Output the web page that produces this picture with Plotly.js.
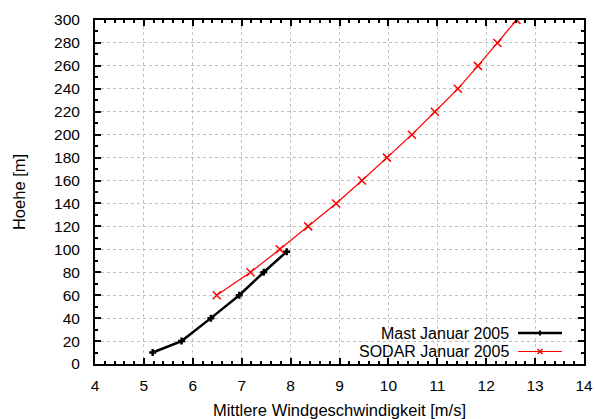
<!DOCTYPE html>
<html><head><meta charset="utf-8">
<script src="https://cdn.plot.ly/plotly-3.0.1.min.js"></script>
<style>html,body{margin:0;padding:0;background:#fff}#c{width:595px;height:419px}</style>
</head><body><div id="c"></div>
<script>
const mastSpeed = [5.18, 5.77, 6.37, 6.95, 7.45, 7.92];
const mastHeight = [10, 20, 40, 60, 80, 98];
const sodarSpeed = [6.49, 7.18, 7.78, 8.36, 8.93, 9.46, 9.97, 10.48, 10.95, 11.42, 11.83, 12.23, 12.62];
const sodarHeight = [60, 80, 100, 120, 140, 160, 180, 200, 220, 240, 260, 280, 300];
const mastName = 'Mast Januar 2005';
const sodarName = 'SODAR Januar 2005';
const xTitle = 'Mittlere Windgeschwindigkeit [m/s]';
const yTitle = 'Hoehe [m]';

const tickFont = {family: 'Liberation Sans, Arial, sans-serif', size: 15.5, color: '#000'};
const font = {family: 'Liberation Sans, Arial, sans-serif', size: 16.5, color: '#000'};
const legFont = {family: 'Liberation Sans, Arial, sans-serif', size: 16, color: '#000'};

const traces = [
  {x: mastSpeed, y: mastHeight, name: mastName, mode: 'lines+markers', type: 'scatter',
   line: {color: '#000', width: 2.5},
   marker: {symbol: 'cross-thin', size: 5, line: {color: '#000', width: 2.5}}},
  {x: sodarSpeed, y: sodarHeight, name: sodarName, mode: 'lines+markers', type: 'scatter',
   line: {color: '#ff0000', width: 1.2},
   marker: {symbol: 'x-thin', size: 8, line: {color: '#ff0000', width: 1.5}}}
];

const axisCommon = {
  showline: true, linecolor: '#000', linewidth: 2, mirror: 'allticks',
  ticks: 'inside', ticklen: 6, tickwidth: 2, tickcolor: '#000',
  showgrid: true, gridcolor: '#c0c0c0', griddash: 'dot', gridwidth: 1,
  zeroline: false, tickfont: tickFont
};

const yMast = 333, ySodar = 351.5;

const layout = {
  width: 595, height: 419,
  margin: {l: 95, r: 11, t: 20, b: 55},
  paper_bgcolor: '#fff', plot_bgcolor: '#fff',
  showlegend: false,
  font: font,
  xaxis: Object.assign({}, axisCommon, {
    range: [4, 14], dtick: 1, tick0: 4, ticklabelstandoff: 6,
    minor: {ticks: 'inside', ticklen: 3, tickwidth: 2, tickcolor: '#000', dtick: 0.2, showgrid: false},
    title: {text: xTitle, font: font, standoff: 14}
  }),
  yaxis: Object.assign({}, axisCommon, {
    range: [0, 300], dtick: 20, tick0: 0, ticklabelstandoff: 10,
    minor: {ticks: 'inside', ticklen: 3, tickwidth: 2, tickcolor: '#000', dtick: 10, showgrid: false},
    title: {text: yTitle, font: font, standoff: 24}
  }),
  annotations: [
    {xref: 'paper', yref: 'paper', x: (510 - 95) / 489, y: (364 - yMast) / 344, text: mastName,
     showarrow: false, xanchor: 'right', yanchor: 'middle', font: legFont, borderpad: 0},
    {xref: 'paper', yref: 'paper', x: (510 - 95) / 489, y: (364 - ySodar) / 344, text: sodarName,
     showarrow: false, xanchor: 'right', yanchor: 'middle', font: legFont, borderpad: 0}
  ],
  shapes: [
    {type: 'line', xref: 'paper', yref: 'paper', x0: (518 - 95) / 489, x1: (562 - 95) / 489,
     y0: (364 - yMast) / 344, y1: (364 - yMast) / 344, line: {color: '#000', width: 2.5}},
    {type: 'line', xref: 'paper', yref: 'paper', x0: (540 - 95) / 489, x1: (540 - 95) / 489,
     y0: (364 - yMast - 2.5) / 344, y1: (364 - yMast + 2.5) / 344, line: {color: '#000', width: 2}},
    {type: 'line', xref: 'paper', yref: 'paper', x0: (518 - 95) / 489, x1: (562 - 95) / 489,
     y0: (364 - ySodar) / 344, y1: (364 - ySodar) / 344, line: {color: '#ff0000', width: 1.2}},
    {type: 'line', xref: 'paper', yref: 'paper', x0: (537.5 - 95) / 489, x1: (542.5 - 95) / 489,
     y0: (364 - ySodar - 2.5) / 344, y1: (364 - ySodar + 2.5) / 344, line: {color: '#ff0000', width: 1.5}},
    {type: 'line', xref: 'paper', yref: 'paper', x0: (537.5 - 95) / 489, x1: (542.5 - 95) / 489,
     y0: (364 - ySodar + 2.5) / 344, y1: (364 - ySodar - 2.5) / 344, line: {color: '#ff0000', width: 1.5}}
  ]
};

Plotly.newPlot('c', traces, layout, {staticPlot: true, displayModeBar: false});
</script>
</body></html>
